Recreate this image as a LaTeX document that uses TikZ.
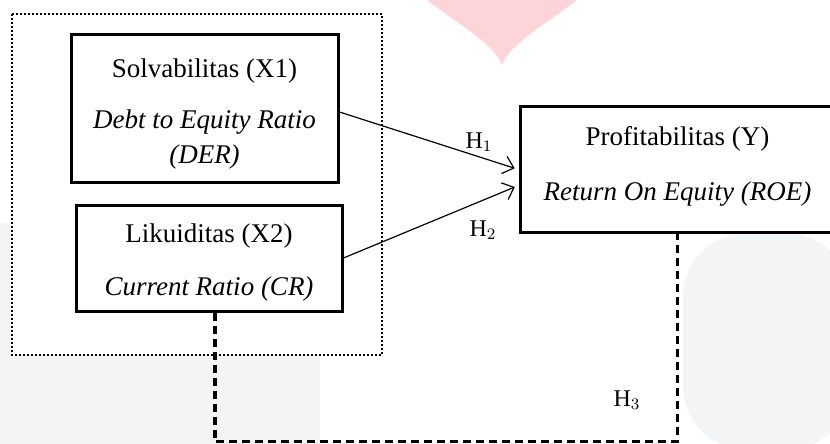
\documentclass[tikz,border=0pt]{standalone}
\usepackage{fontspec}
\setmainfont{Liberation Serif}
\usetikzlibrary{arrows.meta,positioning}
\definecolor{wmpink}{HTML}{FDD5D9}
\definecolor{wmgrey}{HTML}{F3F4F6}

\begin{document}
\begin{tikzpicture}[
  x=0.5pt,y=-0.5pt,
  >={Straight Barb[length=5pt,width=9pt]},
  varbox/.style={draw, line width=1.5pt, fill=white, align=center, inner sep=0pt,
    font=\fontsize{13.5}{17.5}\selectfont},
  hyplabel/.style={font=\fontsize{12}{14}\selectfont, inner sep=0pt},
  hyparrow/.style={->, line width=0.6pt, shorten >=2pt},
  joint/.style={line width=1.7pt, dash pattern=on 4pt off 2.5pt},
  groupframe/.style={line width=1pt, dash pattern=on 1pt off 1pt, fill=white},
]
\useasboundingbox (0,0) rectangle (830,444);
\clip (0,0) rectangle (830,444);
% --- faint background marks ---
\fill[wmpink] (427,0) .. controls (460,25) and (495,45) .. (502,65)
  .. controls (509,45) and (544,25) .. (577,0) -- cycle;
\fill[wmgrey] (0,223) rectangle (320,444);
\fill[wmgrey, rounded corners=32pt] (683,450) -- (683,233) -- (850,233) -- (850,450) -- cycle;
% --- independent variables ---
\draw[groupframe] (12,14) rectangle (382,355);
\node[varbox, minimum width=133.5pt, minimum height=73.5pt] (x1) at (204.5,108.5)
  {\rule{0pt}{15pt}Solvabilitas (X1)\\[8pt]\textit{Debt to Equity Ratio}\\\textit{(DER)}};
\node[varbox, minimum width=133pt, minimum height=53pt] (x2) at (209,258)
  {\rule{0pt}{14pt}Likuiditas (X2)\\[9pt]\textit{Current Ratio (CR)}};
% --- dependent variable ---
\node[varbox, minimum width=157.5pt, minimum height=62.5pt] (y) at (677.5,169.5)
  {Profitabilitas (Y)\\[10pt]\textit{Return On Equity (ROE)}\rule[-6.5pt]{0pt}{0pt}};
% --- hypotheses ---
\draw[hyparrow] ([yshift=-1.75pt]x1.east) -- (y.west);
\draw[hyparrow] (x2.east) -- ([yshift=-8pt]y.west);
\draw[joint] ([xshift=3pt]x2.south) -- ++(0,129) -| (y.south);
\node[hyplabel] (h1) at (479,142) {H$_1$};
\node[hyplabel] (h2) at (483,230) {H$_2$};
\node[hyplabel] (h3) at (627,400) {H$_3$};
\end{tikzpicture}
\end{document}
